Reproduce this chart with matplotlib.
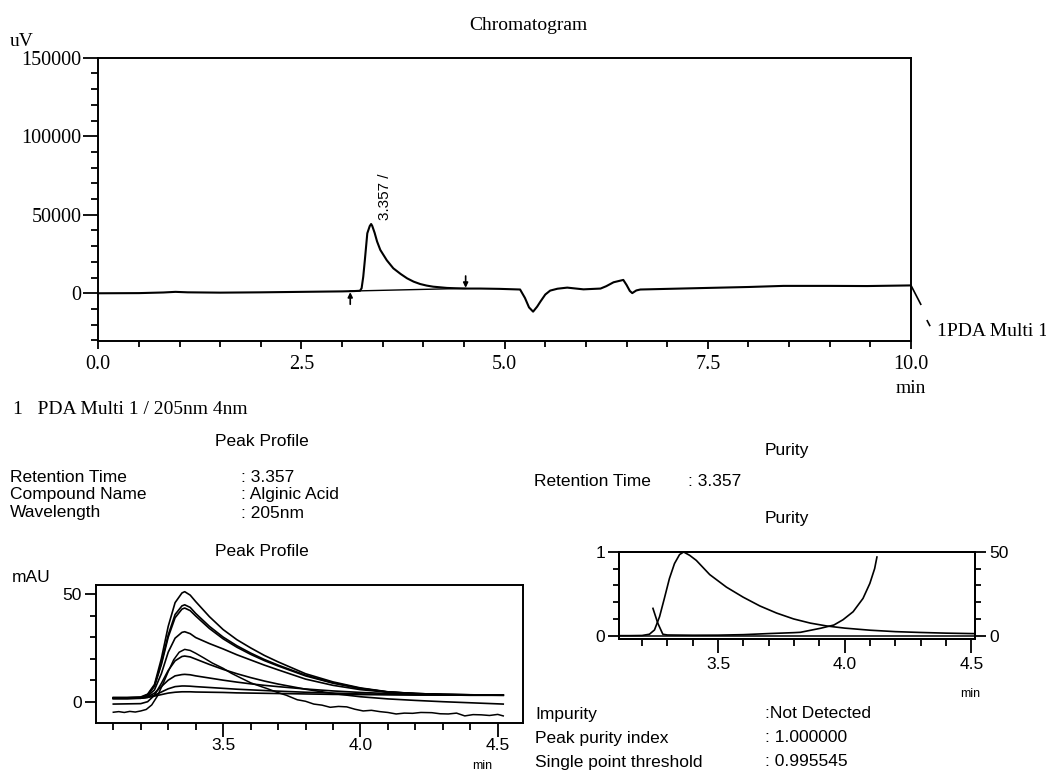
import matplotlib
matplotlib.use("Agg")
import matplotlib.pyplot as plt
from matplotlib.ticker import MultipleLocator, FixedLocator, FormatStrFormatter

W, H = 1046, 774
SERIF = "Liberation Serif"
SANS = "Liberation Sans"

# --- chromatogram (uV vs min) ---
chrom_t = [0.0, 0.5, 0.8, 0.95, 1.1, 1.5, 2.0, 2.5, 3.0, 3.15, 3.22, 3.24, 3.26,
           3.28, 3.31, 3.34, 3.357, 3.37, 3.40, 3.43, 3.47, 3.55, 3.63, 3.72,
           3.80, 3.88, 3.96, 4.04, 4.12, 4.29, 4.50, 4.70, 4.94, 5.19, 5.25,
           5.30, 5.35, 5.40, 5.44, 5.50, 5.56, 5.65, 5.77, 5.97, 6.18, 6.25,
           6.34, 6.46, 6.50, 6.54, 6.57, 6.62, 6.67, 7.0, 7.41, 8.0, 8.43,
           9.0, 9.46, 10.0]
chrom_uv = [0, 100, 500, 900, 600, 400, 600, 900, 1200, 1400, 1600, 3200, 10500,
            21200, 38200, 42800, 44100, 43000, 38500, 33000, 27600, 21000, 15900,
            12300, 9500, 7400, 5900, 4900, 4200, 3400, 3000, 3000, 2800, 2400,
            -3000, -9000, -11700, -8500, -5300, -800, 1700, 2900, 3600, 2500,
            3000, 4500, 7000, 8500, 5300, 1500, 100, 1800, 2400, 2800, 3300,
            4000, 4700, 4700, 4600, 5000]
base_t = [3.10, 4.52]
base_uv = [1400, 3100]
peak_rt = 3.357

# --- peak profile (mAU vs min), one list per wavelength trace ---
pp_t = [3.10, 3.15, 3.20, 3.225, 3.25, 3.275, 3.30, 3.325, 3.35, 3.36, 3.38,
        3.40, 3.45, 3.50, 3.55, 3.60, 3.65, 3.70, 3.80, 3.90, 4.00, 4.10,
        4.20, 4.30, 4.40, 4.52]
pp_a = [2.0, 2.0, 2.2, 3.5, 8.0, 20.0, 35.0, 46.0, 50.5, 51.1, 49.5, 46.5,
        39.5, 33.5, 28.8, 25.0, 21.5, 18.5, 13.0, 9.2, 6.4, 4.6, 3.8, 3.4, 3.2, 3.1]
pp_b = [1.8, 1.8, 2.0, 3.2, 7.5, 18.0, 31.0, 40.5, 44.5, 45.0, 43.8, 41.0,
        35.0, 30.0, 26.0, 22.6, 19.6, 17.0, 12.3, 8.8, 6.2, 4.5, 3.8, 3.4, 3.2, 3.1]
pp_c = [1.6, 1.6, 1.8, 3.0, 7.2, 17.2, 30.0, 39.0, 43.0, 43.5, 42.3, 39.8,
        34.0, 29.2, 25.3, 22.0, 19.1, 16.6, 12.0, 8.6, 6.1, 4.5, 3.8, 3.4, 3.2, 3.1]
pp_d = [1.5, 1.5, 1.7, 2.6, 5.5, 13.0, 23.0, 29.5, 32.2, 32.5, 31.6, 29.8,
        27.0, 24.5, 21.8, 19.4, 17.0, 14.8, 10.5, 7.6, 5.6, 4.4, 3.7, 3.3, 3.1, 3.0]
pp_f = [-1.1, -1.0, -0.9, 0.0, 3.0, 8.5, 14.5, 19.0, 21.0, 21.2, 20.8, 19.8,
        17.3, 15.0, 13.0, 11.2, 9.6, 8.2, 5.8, 3.8, 2.3, 1.3, 0.6, 0.0, -0.5, -1.1]
pp_g = [1.5, 1.5, 1.6, 2.2, 4.0, 7.0, 10.0, 12.0, 12.6, 12.7, 12.5, 12.0,
        11.0, 10.0, 9.1, 8.3, 7.6, 7.0, 5.9, 5.0, 4.3, 3.8, 3.4, 3.2, 3.1, 3.0]
pp_h = [1.5, 1.5, 1.6, 2.0, 3.0, 4.5, 6.0, 7.0, 7.3, 7.3, 7.2, 7.0,
        6.6, 6.2, 5.8, 5.5, 5.2, 4.9, 4.4, 4.0, 3.6, 3.4, 3.2, 3.1, 3.0, 3.0]
pp_i = [1.6, 1.6, 1.7, 2.0, 2.6, 3.3, 4.0, 4.4, 4.6, 4.6, 4.6, 4.5,
        4.4, 4.3, 4.1, 4.0, 3.9, 3.8, 3.6, 3.4, 3.3, 3.2, 3.1, 3.1, 3.0, 3.0]
pp_noisy_t = [3.10, 3.12, 3.14, 3.16, 3.18, 3.20, 3.22, 3.24, 3.26, 3.28, 3.30,
              3.32, 3.34, 3.36, 3.38, 3.40, 3.43, 3.46, 3.50, 3.53, 3.56, 3.60,
              3.63, 3.66, 3.70, 3.73, 3.77, 3.80, 3.83, 3.86, 3.89, 3.92, 3.95,
              3.98, 4.01, 4.04, 4.07, 4.10, 4.13, 4.16, 4.19, 4.22, 4.26, 4.29,
              4.32, 4.35, 4.38, 4.41, 4.44, 4.47, 4.50, 4.52]
pp_noisy = [-4.9, -4.6, -5.0, -4.5, -4.8, -4.3, -3.6, -1.5, 2.5, 8.0, 14.0,
            19.5, 23.0, 24.3, 23.8, 22.5, 20.3, 18.0, 15.5, 13.2, 11.3, 8.8,
            7.4, 6.1, 4.2, 3.0, 0.9, 0.2, -1.1, -1.6, -2.6, -2.2, -2.4, -3.5,
            -4.3, -4.0, -4.6, -5.0, -5.7, -5.3, -5.4, -5.0, -5.1, -5.6, -5.7,
            -5.3, -6.6, -6.0, -6.1, -6.4, -5.9, -6.6]

# --- purity plot ---
pur_peak_t = [3.109, 3.15, 3.20, 3.229, 3.249, 3.269, 3.288, 3.308, 3.328, 3.348,
              3.364, 3.388, 3.414, 3.467, 3.533, 3.599, 3.665, 3.731, 3.798,
              3.864, 3.93, 4.0, 4.1, 4.2, 4.3, 4.4, 4.516]
pur_peak = [0.0, 0.0, 0.002, 0.017, 0.068, 0.226, 0.445, 0.683, 0.862, 0.969,
            1.0, 0.96, 0.90, 0.73, 0.58, 0.46, 0.355, 0.27, 0.20, 0.15,
            0.115, 0.09, 0.065, 0.048, 0.038, 0.03, 0.024]
pur_angle_t = [3.243, 3.262, 3.282, 3.30, 3.40, 3.50, 3.60, 3.70, 3.80, 3.825,
               3.904, 3.957, 3.993, 4.033, 4.072, 4.099, 4.118, 4.127]
pur_angle = [0.326, 0.15, 0.017, 0.008, 0.005, 0.006, 0.012, 0.025, 0.036, 0.04,
             0.088, 0.127, 0.19, 0.286, 0.445, 0.624, 0.802, 0.94]
pur_zero_t = [3.109, 4.516]
pur_zero = [0.0, 0.0]


def box(left, top, right, bottom):
    return [left / W, 1 - bottom / H, (right - left) / W, (bottom - top) / H]


fig = plt.figure(figsize=(W / 100, H / 100), dpi=100)


def put(x, y, s, size=12.5, family=SANS, ha="left", **kw):
    fig.text(x / W, 1 - y / H, s, fontsize=size, family=family, ha=ha,
             va="center", **kw)


# ---------------- top chromatogram ----------------
ax = fig.add_axes(box(98.3, 57.7, 911, 340.7))
ax.plot(chrom_t, chrom_uv, color="black", lw=1.5)
ax.plot(base_t, base_uv, color="black", lw=1.0)
ax.set_xlim(0, 10)
ax.set_ylim(-30200, 150000)
ax.xaxis.set_major_locator(MultipleLocator(2.5))
ax.xaxis.set_minor_locator(MultipleLocator(0.5))
ax.xaxis.set_major_formatter(FormatStrFormatter("%.1f"))
ax.yaxis.set_major_locator(MultipleLocator(50000))
ax.yaxis.set_minor_locator(MultipleLocator(10000))
ax.tick_params(which="both", direction="out", width=1.3, labelsize=14.5,
               labelfontfamily=SERIF)
ax.tick_params(axis="y", which="major", length=11, pad=1)
ax.tick_params(axis="y", which="minor", length=5)
ax.tick_params(axis="x", which="major", length=6, pad=4)
ax.tick_params(axis="x", which="minor", length=4)
for sp in ax.spines.values():
    sp.set_linewidth(1.4)
ax.annotate("", xy=(3.10, 700), xytext=(3.10, -7000),
            arrowprops=dict(arrowstyle="-|>", color="black", lw=1.2,
                            mutation_scale=7, shrinkA=0, shrinkB=0))
ax.annotate("", xy=(4.52, 3500), xytext=(4.52, 11000),
            arrowprops=dict(arrowstyle="-|>", color="black", lw=1.2,
                            mutation_scale=7, shrinkA=0, shrinkB=0))
ax.text(3.53, 46500, "3.357 /", rotation=90, ha="center", va="bottom",
        fontsize=11, family=SANS)
ax.plot([10.0, 10.12], [5000, -7000], color="black", lw=1.2, clip_on=False)
ax.plot([10.2, 10.23], [-17500, -20500], color="black", lw=1.2, clip_on=False)

put(528, 25, "Chromatogram", 14, SERIF, ha="center")
put(10, 42, "uV", 14, SERIF)
put(911, 388, "min", 14, SERIF, ha="center")
put(937, 331, "1PDA Multi 1", 14, SERIF)
put(13, 409, "1   PDA Multi 1 / 205nm 4nm", 14, SERIF)

# ---------------- left text block ----------------
put(262, 441, "Peak Profile", ha="center")
put(10, 477, "Retention Time")
put(10, 495, "Compound Name")
put(10, 513, "Wavelength")
put(241, 477, ": 3.357")
put(241, 495, ": Alginic Acid")
put(241, 513, ": 205nm")
put(262, 551, "Peak Profile", ha="center")
put(12, 577, "mAU")

# ---------------- peak profile ----------------
ax2 = fig.add_axes(box(96, 585, 523, 722.5))
for ys in [pp_a, pp_b, pp_c, pp_d, pp_f, pp_g, pp_h, pp_i]:
    ax2.plot(pp_t, ys, color="black", lw=1.2)
ax2.plot(pp_noisy_t, pp_noisy, color="black", lw=1.1)
ax2.set_xlim(3.037, 4.592)
ax2.set_ylim(-9.66, 54.2)
ax2.xaxis.set_major_locator(FixedLocator([3.5, 4.0, 4.5]))
ax2.xaxis.set_minor_locator(FixedLocator([3.1, 3.2, 3.3, 3.4, 3.6, 3.7, 3.8,
                                          3.9, 4.1, 4.2, 4.3, 4.4]))
ax2.xaxis.set_major_formatter(FormatStrFormatter("%.1f"))
ax2.yaxis.set_major_locator(FixedLocator([0, 50]))
ax2.yaxis.set_minor_locator(FixedLocator([10, 20, 30, 40]))
ax2.tick_params(which="both", direction="out", width=1.3, labelsize=12.5,
                labelfontfamily=SANS)
ax2.tick_params(axis="x", which="major", length=10, pad=1)
ax2.tick_params(axis="x", which="minor", length=5)
ax2.tick_params(axis="y", which="major", length=8, pad=2)
ax2.tick_params(axis="y", which="minor", length=4)
for sp in ax2.spines.values():
    sp.set_linewidth(1.4)
put(482, 766, "min", 9, ha="center")

# ---------------- right text block ----------------
put(787, 451, "Purity", ha="center")
put(534, 482, "Retention Time")
put(688, 482, ": 3.357")
put(787, 518, "Purity", ha="center")
put(535, 714, "Impurity")
put(535, 738, "Peak purity index")
put(535, 762, "Single point threshold")
put(765, 714, ":Not Detected")
put(765, 738, ": 1.000000")
put(765, 762, ": 0.995545")
put(970, 694, "min", 9, ha="center")

# ---------------- purity plot ----------------
ax3 = fig.add_axes(box(619, 552, 975.5, 639))
ax3.plot(pur_zero_t, pur_zero, color="black", lw=1.1)
ax3.plot(pur_peak_t, pur_peak, color="black", lw=1.2)
ax3.plot(pur_angle_t, pur_angle, color="black", lw=1.2)
ax3.set_xlim(3.109, 4.516)
ax3.set_ylim(-0.04, 1.0)
ax3.xaxis.set_major_locator(FixedLocator([3.5, 4.0, 4.5]))
ax3.xaxis.set_minor_locator(FixedLocator([3.2, 3.3, 3.4, 3.6, 3.7, 3.8, 3.9,
                                          4.1, 4.2, 4.3, 4.4]))
ax3.xaxis.set_major_formatter(FormatStrFormatter("%.1f"))
ax3.yaxis.set_major_locator(FixedLocator([0, 1]))
ax3.yaxis.set_minor_locator(FixedLocator([0.2, 0.4, 0.6, 0.8]))
ax3.yaxis.set_major_formatter(FormatStrFormatter("%d"))
ax3.tick_params(which="both", direction="out", width=1.3, labelsize=12.5,
                labelfontfamily=SANS)
ax3.tick_params(axis="x", which="major", length=10, pad=3)
ax3.tick_params(axis="x", which="minor", length=5)
ax3.tick_params(axis="y", which="major", length=8, pad=2)
ax3.tick_params(axis="y", which="minor", length=4)
for sp in ax3.spines.values():
    sp.set_linewidth(1.4)

ax4 = ax3.twinx()
ax4.set_ylim(-2.0, 50)
ax4.yaxis.set_major_locator(FixedLocator([0, 50]))
ax4.yaxis.set_minor_locator(FixedLocator([10, 20, 30, 40]))
ax4.tick_params(which="both", direction="out", width=1.3, labelsize=12.5,
                labelfontfamily=SANS)
ax4.tick_params(axis="y", which="major", length=8, pad=2)
ax4.tick_params(axis="y", which="minor", length=4)
for sp in ax4.spines.values():
    sp.set_linewidth(1.4)

fig.savefig("out.png", dpi=100, facecolor="white")
